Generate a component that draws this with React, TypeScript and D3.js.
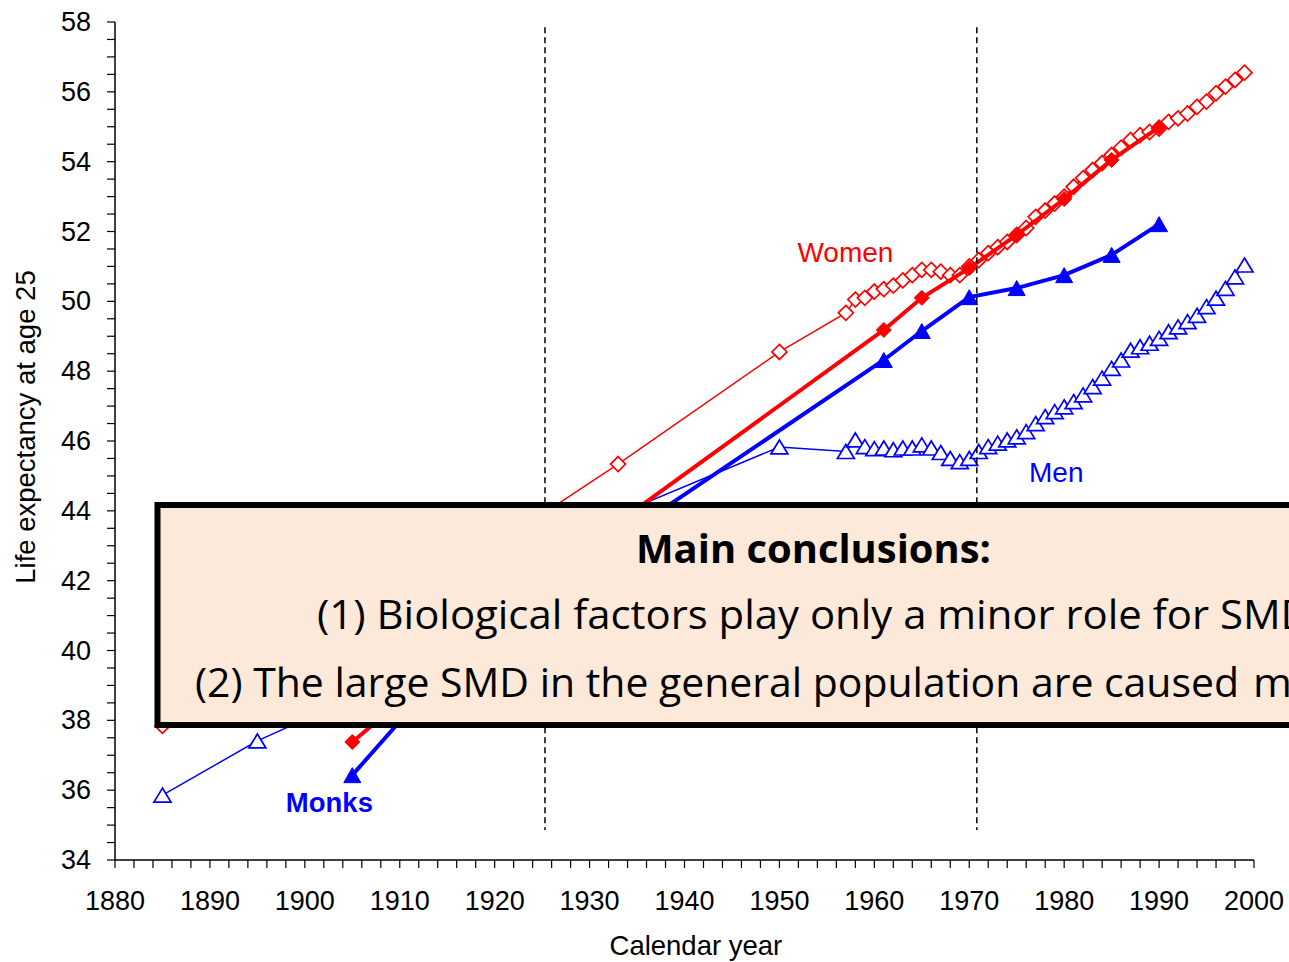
import React from 'react';
import * as d3 from 'd3';

const W = 1289;
const H = 962;

// General population, women (hollow diamonds)
const womenYears = [1885, 1925, 1933, 1950,
  1957, 1958, 1959, 1960, 1961, 1962, 1963, 1964, 1965, 1966, 1967, 1968, 1969,
  1970, 1971, 1972, 1973, 1974, 1975, 1976, 1977, 1978, 1979, 1980, 1981, 1982,
  1983, 1984, 1985, 1986, 1987, 1988, 1989, 1990, 1991, 1992, 1993, 1994, 1995,
  1996, 1997, 1998, 1999];
const womenValues = [37.84, 43.9, 45.34, 48.55,
  49.67, 50.05, 50.1, 50.28, 50.35, 50.45, 50.6, 50.75, 50.9, 50.9, 50.85, 50.75, 50.75,
  51.0, 51.18, 51.38, 51.55, 51.7, 51.9, 52.1, 52.42, 52.6, 52.8, 53.0, 53.28, 53.53,
  53.76, 53.96, 54.19, 54.4, 54.62, 54.76, 54.85, 54.95, 55.14, 55.24, 55.38, 55.57, 55.72,
  55.96, 56.15, 56.34, 56.55];

// General population, men (hollow triangles)
const menYears = [1885, 1895, 1905, 1925, 1933, 1950,
  1957, 1958, 1959, 1960, 1961, 1962, 1963, 1964, 1965, 1966, 1967, 1968, 1969,
  1970, 1971, 1972, 1973, 1974, 1975, 1976, 1977, 1978, 1979, 1980, 1981, 1982,
  1983, 1984, 1985, 1986, 1987, 1988, 1989, 1990, 1991, 1992, 1993, 1994, 1995,
  1996, 1997, 1998, 1999];
const menValues = [35.86, 37.41, 38.64, 42.3, 43.9, 45.83,
  45.7, 46.03, 45.84, 45.78, 45.8, 45.75, 45.8, 45.8, 45.89, 45.8, 45.67, 45.5, 45.41,
  45.5, 45.7, 45.84, 45.94, 46.03, 46.12, 46.27, 46.5, 46.7, 46.84, 46.98, 47.13, 47.32,
  47.56, 47.8, 48.08, 48.32, 48.6, 48.7, 48.8, 48.94, 49.13, 49.27, 49.42, 49.6, 49.85,
  50.09, 50.37, 50.7, 51.04];

// Nuns (filled diamonds)
const nunsYears = [1905, 1930, 1961, 1965, 1970, 1975, 1980, 1985, 1990];
const nunsValues = [37.38, 43.08, 49.18, 50.1, 50.95, 51.9, 52.93, 54.05, 54.99];

// Monks (filled triangles)
const monksYears = [1905, 1918, 1961, 1965, 1970, 1975, 1980, 1985, 1990];
const monksValues = [36.43, 40.43, 48.32, 49.15, 50.12, 50.38, 50.75, 51.33, 52.21];

const xTickLabels = [1880, 1890, 1900, 1910, 1920, 1930, 1940, 1950, 1960, 1970, 1980, 1990, 2000];
const yTickLabels = [34, 36, 38, 40, 42, 44, 46, 48, 50, 52, 54, 56, 58];
const dividerYears = [1925.3, 1970.8];

const RED = '#FF0000';
const BLUE = '#0000FF';
const AXIS_FONT = '"Liberation Sans", Arial, sans-serif';
const BOX_FONT = '"Open Sans", sans-serif';

const diamond = (r: number) => `M0,${-r}L${r},0L0,${r}L${-r},0Z`;
const triangle = (w: number, h: number) => `M0,${-h / 2}L${w / 2},${h / 2}L${-w / 2},${h / 2}Z`;

export default function App() {
  const x = d3.scaleLinear().domain([1880, 2000]).range([115, 1254]);
  const y = d3.scaleLinear().domain([34, 58]).range([860, 22]);

  const mkLine = (xs: number[], vs: number[]) =>
    d3.line<number>().x((_, i) => x(xs[i])).y((v) => y(v))(vs) || '';

  const xMinor = d3.range(1880, 2000.01, 2);
  const yMinor = d3.range(34, 58.01, 0.5);

  return (
    <svg width={W} height={H} style={{ position: 'absolute', left: 0, top: 0, background: '#fff' }}>
      <rect x={0} y={0} width={W} height={H} fill="#fff" />

      {/* Series lines */}
      <path d={mkLine(womenYears, womenValues)} fill="none" stroke={RED} strokeWidth={1.5} />
      <path d={mkLine(menYears, menValues)} fill="none" stroke={BLUE} strokeWidth={1.5} />
      {womenYears.map((yr, i) => (
        <path key={'w' + i} d={diamond(7.5)} transform={`translate(${x(yr)},${y(womenValues[i])})`}
          fill="#fff" stroke={RED} strokeWidth={1.7} />
      ))}
      {menYears.map((yr, i) => (
        <path key={'m' + i} d={triangle(17, 14)} transform={`translate(${x(yr)},${y(menValues[i])})`}
          fill="#fff" stroke={BLUE} strokeWidth={1.7} />
      ))}

      <path d={mkLine(nunsYears, nunsValues)} fill="none" stroke={RED} strokeWidth={4} />
      {nunsYears.map((yr, i) => (
        <path key={'n' + i} d={diamond(7.5)} transform={`translate(${x(yr)},${y(nunsValues[i])})`}
          fill={RED} stroke={RED} strokeWidth={1} />
      ))}
      <path d={mkLine(monksYears, monksValues)} fill="none" stroke={BLUE} strokeWidth={4} />
      {monksYears.map((yr, i) => (
        <path key={'k' + i} d={triangle(17, 15)} transform={`translate(${x(yr)},${y(monksValues[i])})`}
          fill={BLUE} stroke={BLUE} strokeWidth={1} />
      ))}

      {/* Axes */}
      <line x1={x(1880)} x2={x(2000)} y1={y(34)} y2={y(34)} stroke="#000" strokeWidth={1.5} />
      <line x1={x(1880)} x2={x(1880)} y1={y(34)} y2={y(58)} stroke="#000" strokeWidth={1.5} />
      {xMinor.map((t) => (
        <line key={'xt' + t} x1={x(t)} x2={x(t)} y1={y(34)} y2={y(34) + 8} stroke="#000" strokeWidth={1.2} />
      ))}
      {yMinor.map((t) => (
        <line key={'yt' + t} x1={x(1880) - 8} x2={x(1880)} y1={y(t)} y2={y(t)} stroke="#000" strokeWidth={1.2} />
      ))}
      {xTickLabels.map((t) => (
        <text key={'xl' + t} x={x(t)} y={y(34) + 50} textAnchor="middle" fontFamily={AXIS_FONT} fontSize={27} fill="#000">{t}</text>
      ))}
      {yTickLabels.map((t) => (
        <text key={'yl' + t} x={x(1880) - 24} y={y(t) + 9} textAnchor="end" fontFamily={AXIS_FONT} fontSize={27} fill="#000">{t}</text>
      ))}
      <text x={x(1941.2)} y={955} textAnchor="middle" fontFamily={AXIS_FONT} fontSize={27.5} fill="#000">Calendar year</text>
      <text transform={`translate(35,${y(46.4)}) rotate(-90)`} textAnchor="middle" fontFamily={AXIS_FONT} fontSize={27.5} fill="#000">Life expectancy at age 25</text>

      {/* Series labels */}
      <text x={x(1951.9)} y={y(51.13)} fontFamily={AXIS_FONT} fontSize={28} fill={RED}>Women</text>
      <text x={x(1976.3)} y={y(44.83)} fontFamily={AXIS_FONT} fontSize={28} fill={BLUE}>Men</text>
      <text x={x(1898.0)} y={y(35.37)} fontFamily={AXIS_FONT} fontSize={27.5} fontWeight="bold" fill={BLUE}>Monks</text>

      {/* Dashed dividers */}
      {dividerYears.map((yr) => (
        <line key={'d' + yr} x1={x(yr)} x2={x(yr)} y1={y(57.85)} y2={y(34.86)} stroke="#000" strokeWidth={1.5} strokeDasharray="6,4" />
      ))}

      {/* Conclusions box */}
      <rect x={157.5} y={505} width={1320} height={220} fill="#FDE9D9" stroke="#000" strokeWidth={6} />
      <text x={636} y={563} fontFamily={BOX_FONT} fontSize={40} fontWeight="bold" fill="#000"
        textLength={355} lengthAdjust="spacingAndGlyphs">Main conclusions:</text>
      <text x={317} y={629} fontFamily={BOX_FONT} fontSize={40} fill="#000"
        textLength={994} lengthAdjust="spacingAndGlyphs">(1) Biological factors play only a minor role for SMD</text>
      <text x={195} y={697} fontFamily={BOX_FONT} fontSize={40} fill="#000"
        textLength={1044} lengthAdjust="spacingAndGlyphs">(2) The large SMD in the general population are caused</text>
      <text x={1253} y={697} fontFamily={BOX_FONT} fontSize={40} fill="#000"
        textLength={620} lengthAdjust="spacingAndGlyphs">mainly by non-biological factors</text>
    </svg>
  );
}
